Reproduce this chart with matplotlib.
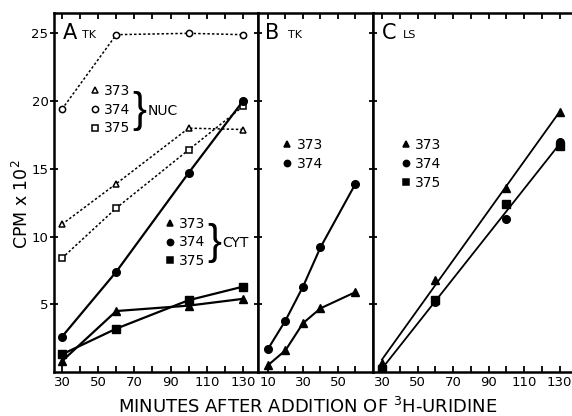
import numpy as np
import matplotlib
matplotlib.use("Agg")
import matplotlib.pyplot as plt
from matplotlib.lines import Line2D
from matplotlib.legend import Legend

# panel A (TK): nuclear = open/dotted, cytoplasmic = filled/solid
a_time = [30, 60, 100, 130]
a_nuc_373 = [10.9, 13.9, 18.0, 17.9]
a_nuc_374 = [19.4, 24.9, 25.0, 24.9]
a_nuc_375 = [8.4, 12.1, 16.4, 19.6]
a_cyt_373 = [0.8, 4.5, 4.9, 5.4]
a_cyt_374 = [2.6, 7.4, 14.7, 20.0]
a_cyt_375 = [1.3, 3.2, 5.3, 6.3]

# panel B (TK)
b_time = [10, 20, 30, 40, 60]
b_373 = [0.5, 1.6, 3.6, 4.7, 5.9]
b_374 = [1.7, 3.8, 6.3, 9.2, 13.9]

# panel C (LS)
c_time = [30, 60, 100, 130]
c_373 = [0.7, 6.8, 13.6, 19.2]
c_374 = [0.3, 5.2, 11.3, 17.0]
c_375 = [0.2, 5.3, 12.4, 16.7]

a_ticks = [30, 50, 70, 90, 110, 130]
b_ticks = [10, 30, 50]
c_ticks = [30, 50, 70, 90, 110, 130]
y_ticks = [5, 10, 15, 20, 25]

MARK = {'373': '^', '374': 'o', '375': 's'}
K = 'black'

fig = plt.figure(figsize=(5.72, 4.16), dpi=100)
W, H = 572, 416


def px_axes(x0, x1, y0, y1):
    return fig.add_axes([x0 / W, 1 - y1 / H, (x1 - x0) / W, (y1 - y0) / H])


axA = px_axes(54, 258, 13, 372)
axB = px_axes(258, 373, 13, 372)
axC = px_axes(373, 572, 13, 372)

axA.set_xlim(25.6, 138.3)
axB.set_xlim(4.3, 70.0)
axC.set_xlim(24.9, 136.9)

for ax, ticks, step in [(axA, a_ticks, 10), (axB, b_ticks, 10), (axC, c_ticks, 10)]:
    ax.set_ylim(0, 26.5)
    lo, hi = ax.get_xlim()
    ax.set_xticks(ticks)
    ax.set_xticks(np.arange(np.ceil(lo / step) * step, hi, step), minor=True)
    ax.set_yticks(y_ticks)
    ax.tick_params(axis='x', which='both', direction='in', top=True, length=4,
                   width=1.3, labelsize=9.5, pad=3)
    ax.tick_params(axis='y', which='both', direction='inout', length=6, width=1.3,
                   labelsize=9.5, pad=1)
    for s in ax.spines.values():
        s.set_linewidth(1.8)
axB.tick_params(axis='y', labelleft=False)
axC.tick_params(axis='y', labelleft=False)
axC.spines['right'].set_visible(False)

dot = (0, (1.6, 1.4))
ms_open = 4.5
ms_fill = 5.5

# panel A
for vals, key in [(a_nuc_373, '373'), (a_nuc_374, '374'), (a_nuc_375, '375')]:
    axA.plot(a_time, vals, color=K, ls=dot, lw=1.1, marker=MARK[key], ms=ms_open,
             mfc='white', mec=K, mew=1.1)
for vals, key in [(a_cyt_373, '373'), (a_cyt_374, '374'), (a_cyt_375, '375')]:
    axA.plot(a_time, vals, color=K, lw=1.6, marker=MARK[key], ms=ms_fill)

# panel B
axB.plot(b_time, b_373, color=K, lw=1.5, marker='^', ms=ms_fill)
axB.plot(b_time, b_374, color=K, lw=1.5, marker='o', ms=ms_fill)

# panel C: points plus fitted straight lines
axC.plot(c_time, c_373, ls='none', color=K, marker='^', ms=ms_fill)
axC.plot(c_time, c_374, ls='none', color=K, marker='o', ms=ms_fill)
axC.plot(c_time, c_375, ls='none', color=K, marker='s', ms=ms_fill)
xs = np.array([c_time[0], c_time[-1]])
p_up = np.polyfit(c_time, c_373, 1)
p_lo = np.polyfit(c_time * 2, c_374 + c_375, 1)
axC.plot(xs, np.polyval(p_up, xs), color=K, lw=1.3)
axC.plot(xs, np.polyval(p_lo, xs), color=K, lw=1.3)


def key_legend(ax, keys, filled, x, y):
    handles = [Line2D([], [], ls='none', marker=MARK[k], color=K,
                      mfc=K if filled else 'white', mec=K, mew=1.1, ms=4.5)
               for k in keys]
    leg = Legend(ax, handles, keys, loc='upper left', bbox_to_anchor=(x, y),
                 frameon=False, handlelength=0.6, handletextpad=0.35,
                 labelspacing=0.35, borderpad=0, borderaxespad=0, fontsize=10)
    ax.add_artist(leg)


key_legend(axA, ['373', '374', '375'], False, 0.18, 0.803)
key_legend(axA, ['373', '374', '375'], True, 0.55, 0.433)
key_legend(axB, ['373', '374'], True, 0.22, 0.652)
key_legend(axC, ['373', '374', '375'], True, 0.145, 0.652)

# braces and group names
axA.text(0.385, 0.728, '}', transform=axA.transAxes, fontsize=30, va='center',
         ha='left', family='Liberation Sans', fontweight='light')
axA.text(0.46, 0.726, 'NUC', transform=axA.transAxes, fontsize=10, va='center')
axA.text(0.75, 0.36, '}', transform=axA.transAxes, fontsize=30, va='center',
         ha='left', family='Liberation Sans', fontweight='light')
axA.text(0.825, 0.358, 'CYT', transform=axA.transAxes, fontsize=10, va='center')

# panel letters
for ax, letter, lab, x1, x2 in [(axA, 'A', 'TK', 0.045, 0.135),
                                (axB, 'B', 'TK', 0.065, 0.26),
                                (axC, 'C', 'LS', 0.045, 0.15)]:
    ax.text(x1, 0.945, letter, transform=ax.transAxes, fontsize=15, va='center')
    ax.text(x2, 0.94, lab, transform=ax.transAxes, fontsize=8, va='center')

fig.text(0.038, 0.51, r'CPM x $\mathregular{10^2}$', rotation=90, fontsize=12.5,
         ha='center', va='center')
fig.text(0.538, 0.022, r'MINUTES AFTER ADDITION OF $\mathregular{^3}$H-URIDINE',
         fontsize=13, ha='center', va='center')

fig.savefig('out.png', dpi=100)
